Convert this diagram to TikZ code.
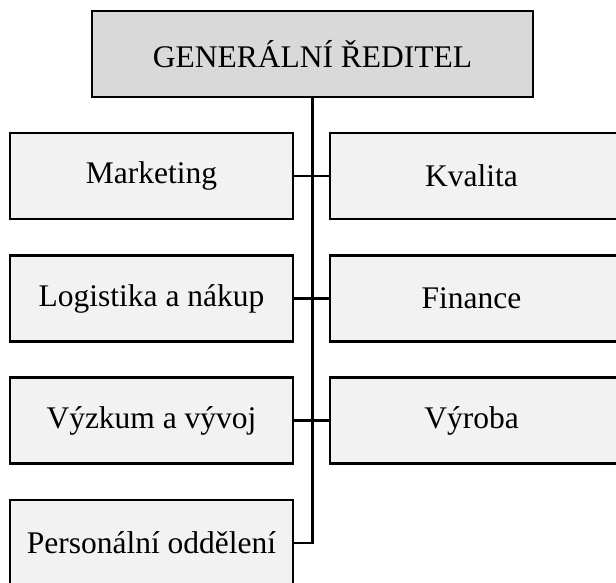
\documentclass[tikz,border=0pt]{standalone}
\usepackage{fontspec}
\setmainfont{Liberation Serif}
\definecolor{headgray}{HTML}{D9D9D9}
\definecolor{unitgray}{HTML}{F2F2F2}
\tikzset{
  unit/.style={draw,line width=2.8pt,fill=unitgray,inner sep=0pt,
    minimum width=283pt,minimum height=86pt,font=\fontsize{31.5}{36}\selectfont},
  head/.style={unit,fill=headgray,minimum width=441pt},
  link/.style={line width=2.6pt}
}
\begin{document}
\begin{tikzpicture}[x=1pt,y=-1pt]
            \clip (0,0) rectangle (616,583);
            \node[head] (gr) at (312.5,54) {GENERÁLNÍ ŘEDITEL};
            \node[unit] (mkt) at (151.5,176) {Marketing};
            \node[unit] (log) at (151.5,298.5) {Logistika a nákup};
            \node[unit] (vyv) at (151.5,420.5) {Výzkum a vývoj};
            \node[unit] (pers) at (151.5,543) {Personální oddělení};
            \node[unit,minimum width=290pt] (kval) at (475,176) {\hspace*{-7pt}Kvalita};
            \node[unit,minimum width=290pt] (fin) at (475,298.5) {\hspace*{-7pt}Finance};
            \node[unit,minimum width=290pt] (vyr) at (475,420.5) {\hspace*{-7pt}Výroba};
            \coordinate (end) at (gr.south |- pers.east);
            \draw[link] (gr.south) -- (end) -- (pers.east);
            \draw[link] (mkt.east) -- (kval.west);
            \draw[link] (log.east) -- (fin.west);
            \draw[link] (vyv.east) -- (vyr.west);
\end{tikzpicture}
\end{document}
